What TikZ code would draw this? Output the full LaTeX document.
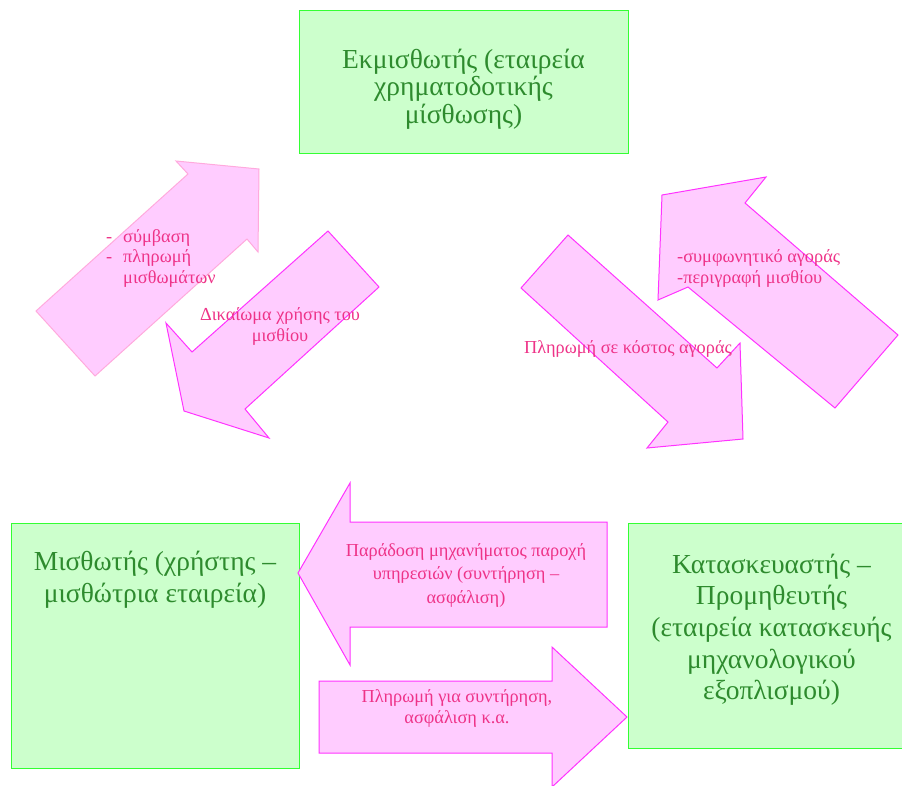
\documentclass[tikz,border=0pt]{standalone}
\usepackage{fontspec}
\setmainfont{Liberation Serif}
\usepackage{xcolor}
\usepackage{tikz}
\usetikzlibrary{positioning}

\definecolor{boxfill}{HTML}{CCFFCC}
\definecolor{boxline}{HTML}{33FF33}
\definecolor{boxtext}{HTML}{2E8B2E}
\definecolor{arrowfill}{HTML}{FFCCFF}
\definecolor{arrowline}{HTML}{FF33FF}
\definecolor{arrowpale}{HTML}{FFAADD}
\definecolor{arrowtext}{HTML}{EE3388}

\begin{document}
\begin{tikzpicture}[x = 1pt, y = -1pt]
            \tikzstyle{party} = [rectangle, draw=boxline, fill=boxfill, line width=1pt, inner sep=0pt];
            \tikzstyle{partytext} = [text=boxtext, align=center, inner sep=0pt, font=\fontsize{27.5}{31.7}\selectfont];
            \tikzstyle{flow} = [draw=arrowline, fill=arrowfill, line width=1pt, line join=miter];
            \tikzstyle{flowtext} = [text=arrowtext, inner sep=0pt, font=\fontsize{18.3}{20.5}\selectfont];

            \useasboundingbox (0,0) rectangle (902,785);

            \node [party, minimum width=329pt, minimum height=143pt] (B0) at (463.5,81.5) {};
            \node [party, minimum width=288pt, minimum height=245pt] (B1) at (155,645.5) {};
            \node [party, minimum width=287pt, minimum height=225pt] (B2) at (771.5,635.5) {};

            \node [partytext, font=\fontsize{27.5}{27.5}\selectfont, below = 39pt of B0.north] (T0)
                {Εκμισθωτής (εταιρεία\\χρηματοδοτικής\\μίσθωσης)};
            \node [partytext, below = 28.5pt of B1.north] (T1)
                {Μισθωτής (χρήστης –\\μισθώτρια εταιρεία)};
            \node [partytext, below = 31pt of B2.north] (T2)
                {Κατασκευαστής –\\Προμηθευτής\\(εταιρεία κατασκευής\\μηχανολογικού\\εξοπλισμού)};

            \filldraw [flow, draw=arrowpale] (36,311) -- (188,174) -- (176,161) -- (259,169)
                -- (258,252) -- (247,239) -- (95,376) -- cycle;
            \filldraw [flow] (328,231) -- (379,287) -- (245,409) -- (269,438)
                -- (184,411) -- (166,323) -- (192,352) -- cycle;
            \filldraw [flow] (568,235) -- (717,368) -- (740,343) -- (743,439)
                -- (647,448) -- (668,422) -- (521,288) -- cycle;
            \filldraw [flow] (662,195) -- (766,177) -- (745,203) -- (898,335)
                -- (835,408) -- (688,287) -- (658,300) -- cycle;
            \filldraw [flow] (298,573) -- (350,483) -- (350,522) -- (607,522)
                -- (607,627) -- (350,627) -- (350,665) -- cycle;
            \filldraw [flow] (627,717) -- (552,647) -- (552,681) -- (319,681)
                -- (319,753) -- (552,753) -- (552,787) -- cycle;

            % anchor base = baseline of the last line
            \node [flowtext, align=left, anchor=base west] (A1) at (106,283)
                {\makebox[17pt][l]{-}σύμβαση\\\makebox[17pt][l]{-}πληρωμή\\\hspace*{17pt}μισθωμάτων};
            \node [flowtext, align=center, anchor=base] (A2) at (280,341)
                {Δικαίωμα χρήσης του\\μισθίου};
            \node [flowtext, align=left, anchor=base west] (A3) at (677,283)
                {-συμφωνητικό αγοράς\\-περιγραφή μισθίου};
            \node [flowtext, anchor=base] (A4) at (628,353) {Πληρωμή σε κόστος αγοράς};
            \node [flowtext, align=center, anchor=base, font=\fontsize{18.3}{23.3}\selectfont] (A5) at (466,603)
                {Παράδοση μηχανήματος παροχή\\υπηρεσιών (συντήρηση –\\ασφάλιση)};
            \node [flowtext, align=center, anchor=base] (A6) at (457,723)
                {Πληρωμή για συντήρηση,\\ασφάλιση κ.α.};
        \end{tikzpicture}
\end{document}
